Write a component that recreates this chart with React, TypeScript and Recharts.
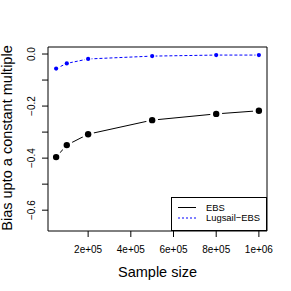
import { LineChart, Line, XAxis, YAxis, ReferenceArea, Legend, Label } from 'recharts';

const sampleSizes = [50000, 100000, 200000, 500000, 800000, 1000000];
const ebsBias = [-0.396, -0.35, -0.308, -0.254, -0.23, -0.218];
const lugsailBias = [-0.056, -0.036, -0.019, -0.008, -0.004, -0.004];
const xTicks = [200000, 400000, 600000, 800000, 1000000];
const xTickLabels = ['2e+05', '4e+05', '6e+05', '8e+05', '1e+06'];
const yTicks = [0, -0.1, -0.2, -0.3, -0.4, -0.5, -0.6];
const yTickLabels = ['0.0', '', '\u22120.2', '', '\u22120.4', '', '\u22120.6'];

const data = sampleSizes.map((n, i) => ({ n, ebs: ebsBias[i], lugsail: lugsailBias[i] }));

const FONT = '"Liberation Sans", Arial, Helvetica, sans-serif';
const X_DOMAIN: [number, number] = [12000, 1038000];
const Y_DOMAIN: [number, number] = [-0.68, 0.027];

const XTick = (props: any) => {
  const i = xTicks.indexOf(props.payload.value);
  return (
    <text x={props.x} y={props.y + 14} textAnchor="middle" fontSize={10} fontFamily={FONT} fill="#000">
      {xTickLabels[i]}
    </text>
  );
};

const YTick = (props: any) => {
  const i = yTicks.findIndex((v) => Math.abs(v - props.payload.value) < 1e-9);
  const label = yTickLabels[i];
  if (!label) return <g />;
  return (
    <text
      transform={`translate(${props.x - 5},${props.y}) rotate(-90)`}
      textAnchor="middle"
      fontSize={10}
      fontFamily={FONT}
      fill="#000"
    >
      {label}
    </text>
  );
};

const EbsDot = (p: any) => (
  <g key={`e${p.index}`}>
    <circle cx={p.cx} cy={p.cy} r={6} fill="#fff" />
    <circle cx={p.cx} cy={p.cy} r={3.2} fill="#000" />
  </g>
);

const LugsailDot = (p: any) => (
  <g key={`l${p.index}`}>
    <circle cx={p.cx} cy={p.cy} r={3.5} fill="#fff" />
    <circle cx={p.cx} cy={p.cy} r={2.1} fill="#0000ff" />
  </g>
);

const LegendBox = () => (
  <svg width={96} height={34} style={{ display: 'block' }}>
    <rect x={0.5} y={0.5} width={95} height={33} fill="#fff" stroke="#000" strokeWidth={1} />
    <line x1={7} x2={25} y1={10.5} y2={10.5} stroke="#000" strokeWidth={1} />
    <line x1={7} x2={25} y1={21} y2={21} stroke="#0000ff" strokeWidth={1} strokeDasharray="2 2" />
    <text x={35} y={13.6} fontSize={9.4} fontFamily={FONT} fill="#000">EBS</text>
    <text x={35} y={24.4} fontSize={9.4} fontFamily={FONT} fill="#000">Lugsail{'\u2212'}EBS</text>
  </svg>
);

export default function App() {
  return (
    <div style={{ position: 'absolute', left: 0, top: 0, width: 291, height: 291, background: '#fff' }}>
      <LineChart width={291} height={291} data={data} margin={{ top: 47, right: 24, bottom: 30, left: 8 }}>
        <XAxis
          dataKey="n"
          type="number"
          domain={X_DOMAIN}
          ticks={xTicks}
          interval={0}
          tick={XTick}
          tickSize={6}
          tickLine={{ stroke: '#000' }}
          axisLine={false}
          height={30}
          allowDataOverflow
        >
          <Label
            content={() => (
              <text x={157.5} y={276.5} textAnchor="middle" fontSize={14.5} fontFamily={FONT} fill="#000">
                Sample size
              </text>
            )}
          />
        </XAxis>
        <YAxis
          type="number"
          domain={Y_DOMAIN}
          ticks={yTicks}
          interval={0}
          tick={YTick}
          tickSize={6}
          tickLine={{ stroke: '#000' }}
          axisLine={false}
          width={40}
          allowDataOverflow
        >
          <Label
            content={() => (
              <text
                transform="translate(12,138) rotate(-90)"
                textAnchor="middle"
                fontSize={14.5}
                fontFamily={FONT}
                fill="#000"
              >
                Bias upto a constant multiple
              </text>
            )}
          />
        </YAxis>
        <ReferenceArea
          x1={X_DOMAIN[0]}
          x2={X_DOMAIN[1]}
          y1={Y_DOMAIN[0]}
          y2={Y_DOMAIN[1]}
          fill="none"
          stroke="#000"
          strokeWidth={1}
        />
        <Line
          dataKey="ebs"
          type="linear"
          stroke="#000"
          strokeWidth={1}
          dot={EbsDot}
          isAnimationActive={false}
        />
        <Line
          dataKey="lugsail"
          type="linear"
          stroke="#0000ff"
          strokeWidth={1}
          strokeDasharray="3 2"
          dot={LugsailDot}
          isAnimationActive={false}
        />
        <Legend
          layout="vertical"
          align="center"
          verticalAlign="middle"
          content={LegendBox}
          wrapperStyle={{ position: 'absolute', left: 171, top: 197, width: 96, height: 34, margin: 0 }}
        />
      </LineChart>
    </div>
  );
}
